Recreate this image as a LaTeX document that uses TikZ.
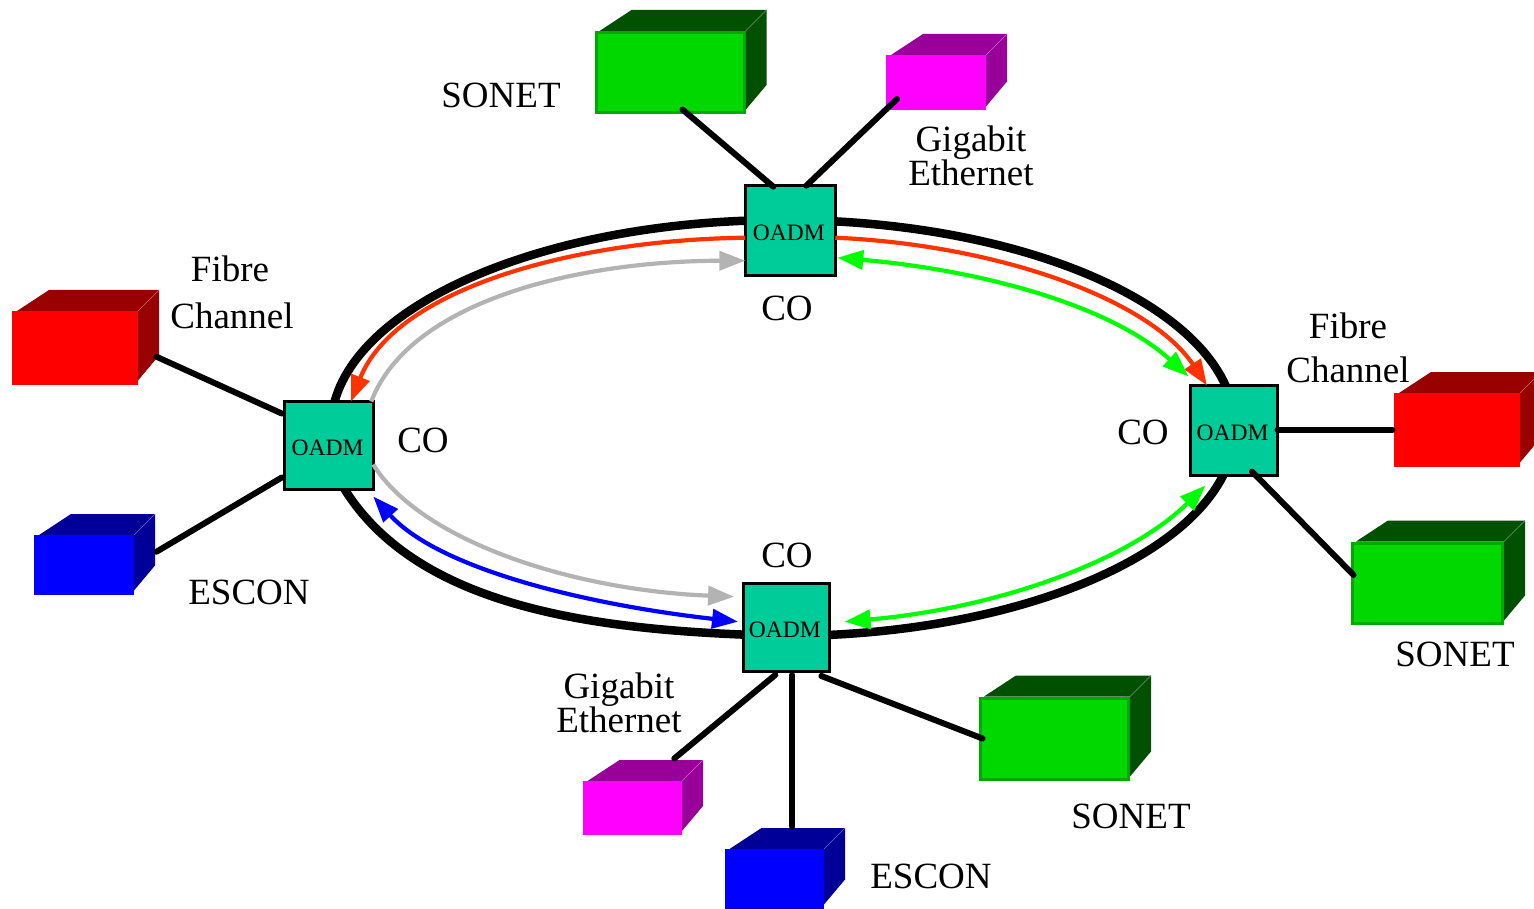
\documentclass[tikz,border=0pt]{standalone}
\usepackage{fontspec}
\setmainfont{Liberation Serif}
\usetikzlibrary{arrows.meta}
\definecolor{oadmfill}{HTML}{00CC99}
\definecolor{ringorange}{HTML}{FF3300}
\definecolor{ringgreen}{HTML}{00FF00}
\definecolor{ringgray}{HTML}{B3B3B3}
\definecolor{sonetfill}{HTML}{00D800}
\definecolor{sonetedge}{HTML}{00A800}
\definecolor{sonetdark}{HTML}{005000}
\definecolor{fibrefill}{HTML}{FF0000}
\definecolor{fibredark}{HTML}{990000}
\definecolor{gigafill}{HTML}{FF00FF}
\definecolor{gigadark}{HTML}{990099}
\definecolor{esconfill}{HTML}{0000FF}
\definecolor{escondark}{HTML}{000099}
\newcommand{\oadmtext}{\kern-3pt\raisebox{-9.7pt}[0pt][0pt]{OADM}}
\tikzset{
	x = 1pt, y = -1pt,
	oadm/.style = {draw, fill = oadmfill, line width = 3pt, outer sep = 0pt, inner sep = 0pt, font = \fontsize{23.5}{26}\selectfont},
	lbl/.style = {anchor = base, inner sep = 0pt, font = \fontsize{37}{40}\selectfont},
	link/.style = {line width = 6pt, line cap = round},
	ringline/.style = {line width = 8.5pt},
	arcline/.style = {line width = 4.2pt},
	tipA/.tip = {Triangle[length = 26pt, width = 19pt]},
	pics/box3d/.style n args = {5}{code = {
		
		% top and side
		\fill[#5] (5, 0) -- (37, -21) -- (#1 + 21, -21) -- (#1, 0) -- cycle;
		\fill[#5] (#1, 0) -- (#1 + 21, -21) -- (#1 + 21, #2 - 29) -- (#1, #2 - 4) -- cycle;
		\draw[#5!60!white, line width = 0.4pt] (#1, 0) -- (#1 + 21, -21);
		
		% front
		\node[draw = #4, fill = #3, line width = 3pt, outer sep = 0pt, anchor = north west, minimum width = {(#1 - 3) * 1pt}, minimum height = {(#2 - 3) * 1pt}, inner sep = 0pt] (-front) at (1.5, 1.5) {};
	}}
}

\begin{document}
\begin{tikzpicture}
	
	\useasboundingbox (0, 0) rectangle (1534, 909);
	
	% ring
	\draw[ringline] (783, 636) arc [start angle = 90, end angle = -180, x radius = 452, y radius = 208];
	\draw[ringline] (338, 478) .. controls (410, 610) and (600, 632) .. (790, 636);
	
	% boxes
	\pic (sonetT) at (594.5, 31) {box3d = {151}{83}{sonetfill}{sonetedge}{sonetdark}};
	\pic (sonetR) at (1351, 541.5) {box3d = {153}{83}{sonetfill}{sonetedge}{sonetdark}};
	\pic (sonetB) at (979, 696.5) {box3d = {151}{84}{sonetfill}{sonetedge}{sonetdark}};
	\pic (gigaT) at (886, 55) {box3d = {100}{55.5}{gigafill}{gigafill}{gigadark}};
	\pic (gigaB) at (582.5, 781) {box3d = {99.5}{54}{gigafill}{gigafill}{gigadark}};
	\pic (fibreL) at (12, 311) {box3d = {126}{73.5}{fibrefill}{fibrefill}{fibredark}};
	\pic (fibreR) at (1394, 393) {box3d = {126}{73.5}{fibrefill}{fibrefill}{fibredark}};
	\pic (esconL) at (34, 535) {box3d = {100}{59.5}{esconfill}{esconfill}{escondark}};
	\pic (esconB) at (724.5, 849) {box3d = {99.5}{59.5}{esconfill}{esconfill}{escondark}};
	
	% OADM
	\node[oadm, minimum size = 90pt] (oadmT) at (790.3, 230.7) {\oadmtext};
	\node[oadm, minimum width = 88.5pt, minimum height = 88pt] (oadmL) at (329, 445.5) {\oadmtext};
	\node[oadm, minimum width = 87pt, minimum height = 90pt] (oadmR) at (1234, 430.5) {\oadmtext};
	\node[oadm, minimum width = 86.5pt, minimum height = 88.5pt] (oadmB) at (786.3, 627.7) {\oadmtext};
	
	% wavelengths
	\begin{scope}[arcline]
		\draw[ringorange, -tipA] ([yshift = -7pt]oadmT.west) .. controls (570, 240) and (395, 290) .. ([xshift = 22pt]oadmL.north);
		\draw[ringorange, -tipA] ([yshift = -7pt]oadmT.east) .. controls (1000, 245) and (1150, 300) .. ([xshift = -27pt]oadmR.north);
		\draw[ringgray, -tipA] ([xshift = -2pt]oadmL.north east) .. controls (410, 300) and (580, 261) .. ([yshift = -30pt]oadmT.west);
		\draw[ringgray, -tipA] ([yshift = -19pt]oadmL.east) .. controls (420, 540) and (570, 590) .. ([xshift = -9pt, yshift = 31pt]oadmB.west);
		\draw[ringgreen, tipA-tipA] ([xshift = 2pt, yshift = -27pt]oadmT.east) .. controls (980, 270) and (1110, 305) .. ([xshift = -2pt, yshift = 9pt]oadmR.north west);
		\draw[ringgreen, tipA-tipA] ([xshift = 15pt, yshift = 6pt]oadmB.east) .. controls (1000, 608) and (1130, 560) .. ([xshift = 15pt, yshift = -10pt]oadmR.south west);
		\draw[esconfill, tipA-tipA] ([yshift = -7pt]oadmL.south east) .. controls (440, 570) and (590, 605) .. ([xshift = -5pt, yshift = 6pt]oadmB.west);
	\end{scope}
	
	% links
	\draw[link] ([xshift = 12.5pt, yshift = 3pt]sonetT-front.south) -- ([xshift = -17pt, yshift = -1pt]oadmT.north);
	\draw[link] ([xshift = -39pt, yshift = 10pt]gigaT-front.south) -- ([xshift = 16pt]oadmT.north);
	\draw[link] ([xshift = 20pt, yshift = -9pt]fibreL-front.east) -- ([xshift = -3pt, yshift = 32pt]oadmL.west);
	\draw[link] ([xshift = 24pt, yshift = 13pt]esconL-front.east) -- ([xshift = -3pt, yshift = -32pt]oadmL.west);
	\draw[link] ([xshift = -3pt]fibreR-front.west) -- (oadmR.east |- fibreR-front.west);
	\draw[link] ([xshift = 1pt, yshift = 8pt]sonetR-front.west) -- ([xshift = 18pt, yshift = 4pt]oadmR.south);
	\draw[link] ([xshift = 42pt, yshift = 24pt]gigaB-front.north) -- ([xshift = -11pt, yshift = -3pt]oadmB.south);
	\draw[link] ([xshift = 6pt, yshift = 24pt]oadmB.south |- esconB-front.north) -- ([xshift = 6pt, yshift = -3pt]oadmB.south);
	\draw[link] ([xshift = 2pt]sonetB-front.west) -- ([xshift = 35pt, yshift = -4pt]oadmB.south);
	
	% labels
	\foreach \n/\x/\y/\t in {
		a/501/108/SONET, b/971/152/Gigabit, c/971/186/Ethernet,
		d/230/282/Fibre, e/232/328/Channel, f/1348/338/Fibre, g/1348/382/Channel,
		h/787/320/CO, i/423/452/CO, j/1143/444/CO, k/787/567/CO,
		l/249/604/ESCON, m/1455/666/SONET, n/619/698/Gigabit, o/619/732/Ethernet,
		p/1131/828/SONET, q/931/888/ESCON} {
		\node[lbl] (lbl\n) at (\x, \y) {\t};
	}
	
\end{tikzpicture}
\end{document}
